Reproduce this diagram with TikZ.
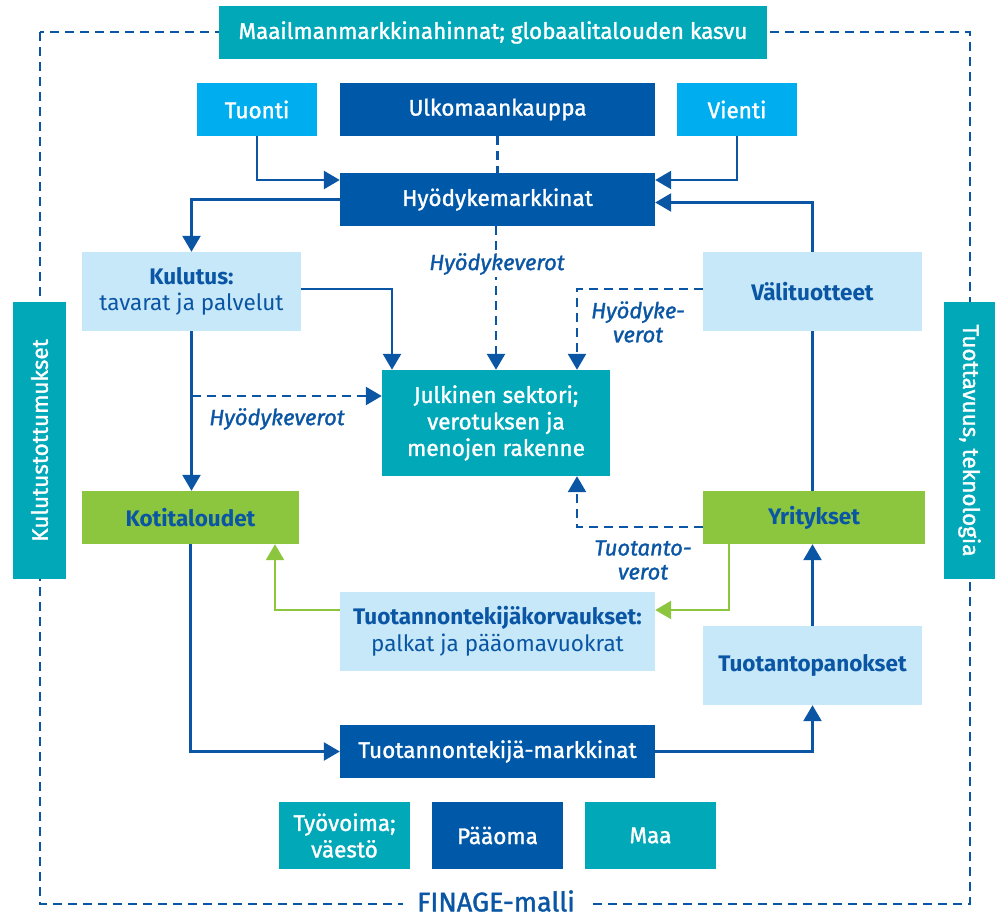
\documentclass[tikz,border=0pt]{standalone}
\usepackage{fontspec}
\setmainfont{Fira Sans}
\newfontfamily\medf{Fira Sans}[FakeBold=1.4]
\usetikzlibrary{arrows.meta,calc}
\definecolor{cTeal}{HTML}{00A8B8}
\definecolor{cDark}{HTML}{0059A8}
\definecolor{cLight}{HTML}{00AEEF}
\definecolor{cPale}{HTML}{C6E8F8}
\definecolor{cGreen}{HTML}{8CC63F}
\definecolor{cText}{HTML}{0A56A4}
\begin{document}
\begin{tikzpicture}[x=1pt,y=-1pt,
  box/.style={inner sep=0pt, align=center, font=\fontsize{22.5}{26.5}\selectfont},
  wbox/.style={box, text=white, font=\medf\fontsize{22.5}{26.5}\selectfont},
  dbox/.style={box, text=cText},
  arr/.style={draw=cText, line width=2.5pt, -{Triangle[length=16pt,width=18pt]}},
  garr/.style={draw=cGreen, line width=2.5pt, -{Triangle[length=16pt,width=18pt]}},
  dsh/.style={dash pattern=on 9pt off 6pt},
  plain/.style={draw=cText, line width=2.5pt},
  lab/.style={font=\medf\itshape\fontsize{22}{24}\selectfont, text=cText, fill=white, inner sep=2pt, align=center},
]
\useasboundingbox (0,0) rectangle (995,917);
% outer dashed frame
\coordinate (fTL) at (40,32);
\coordinate (fBR) at (970,904);
\draw[draw=cText, line width=2.4pt, dsh] (fTL) rectangle (fBR);

% top box
\node[wbox, fill=cTeal, minimum width=548pt, minimum height=53pt] (top) at (493,32.5) {Maailmanmarkkinahinnat; globaalitalouden kasvu};
% side boxes
\node[wbox, fill=cTeal, minimum width=277pt, minimum height=53pt, rotate=90] (leftv) at (39.5,440.5) {Kulutustottumukset};
\node[wbox, fill=cTeal, minimum width=277pt, minimum height=52pt, rotate=-90] (rightv) at (969.5,440.5) {Tuottavuus, teknologia};

% row 1
\node[wbox, fill=cLight, minimum width=120pt, minimum height=53pt] (tuonti) at (257,109.5) {Tuonti};
\node[wbox, fill=cDark, minimum width=315pt, minimum height=53pt] (ulko) at (497.5,109.5) {Ulkomaankauppa};
\node[wbox, fill=cLight, minimum width=120pt, minimum height=53pt] (vienti) at (737,109.5) {Vienti};
\node[wbox, fill=cDark, minimum width=315pt, minimum height=53pt] (hyody) at (497.5,199.5) {Hyödykemarkkinat};

% middle
\node[dbox, fill=cPale, minimum width=219pt, minimum height=79pt] (kulutus) at (191.5,291.5) {\bfseries Kulutus:\\tavarat ja palvelut};
\node[dbox, fill=cPale, minimum width=219pt, minimum height=79pt] (vali) at (812.5,291.5) {\bfseries Välituotteet};
\node[wbox, fill=cTeal, minimum width=228pt, minimum height=106pt] (julk) at (496,423) {Julkinen sektori;\\verotuksen ja\\menojen rakenne};
\node[dbox, fill=cGreen, minimum width=217pt, minimum height=53pt] (koti) at (190.5,517.5) {\bfseries Kotitaloudet};
\node[dbox, fill=cGreen, minimum width=222pt, minimum height=53pt] (yrit) at (814,517.5) {\bfseries Yritykset};
\node[dbox, fill=cPale, minimum width=315pt, minimum height=79pt] (tkorv) at (497.5,631.5) {\bfseries Tuotannontekijäkorvaukset:\\palkat ja pääomavuokrat};
\node[dbox, fill=cPale, minimum width=219pt, minimum height=79pt] (tpan) at (812.5,665.5) {\bfseries Tuotantopanokset};
\node[wbox, fill=cDark, minimum width=315pt, minimum height=53pt] (tmark) at (497.5,751.5) {Tuotannontekijä-markkinat};

% bottom row
\node[wbox, fill=cTeal, minimum width=131pt, minimum height=67pt] (tyov) at (344.5,835.5) {Työvoima;\\väestö};
\node[wbox, fill=cDark, minimum width=131pt, minimum height=67pt] (paaoma) at (497.5,835.5) {Pääoma};
\node[wbox, fill=cTeal, minimum width=131pt, minimum height=67pt] (maa) at (650.5,835.5) {Maa};

\node[font=\medf\fontsize{27}{29}\selectfont, text=cText, fill=white, inner xsep=14pt, inner ysep=1pt] (finage) at (496,901) {FINAGE-malli};

% connectors
\draw[arr] (tuonti.south) |- ([yshift=19.5pt]hyody.west);
\draw[arr] (vienti.south) |- ([yshift=19.5pt]hyody.east);
\draw[plain, dsh] (ulko.south) -- (hyody.north);
\draw[arr] (hyody.west) -| (kulutus.north);
\draw[arr] (vali.north) |- ([yshift=-3pt]hyody.east);

\draw[arr, dsh] ([xshift=-1.5pt]hyody.south) -- ([xshift=-1.5pt]hyody.south |- julk.north);
\node[lab] (lbl1) at (497,264) {Hyödykeverot};

\draw[arr] ([yshift=2.5pt]kulutus.east) -| ([xshift=-104pt]julk.north);
\draw[arr] (kulutus.south) -- (kulutus.south |- koti.north);
\coordinate (hvl) at ([yshift=27pt]julk.west);
\draw[arr, dsh] (kulutus.south |- hvl) -- (hvl);
\node[lab] (lbl2) at (277,419) {Hyödykeverot};

\draw[arr, dsh] ([yshift=2.5pt]vali.west) -| ([xshift=81pt]julk.north);
\node[lab, fill=none] (lbl3) at (638,322) {Hyödyke-\\verot};

\draw[plain] (vali.south) -- (vali.south |- yrit.north);
\draw[arr, dsh] ([yshift=-9.5pt]yrit.west) -| ([xshift=81pt]julk.south);
\node[lab, fill=none] (lbl4) at (643,560) {Tuotanto-\\verot};

\draw[garr] ([xshift=-85pt]yrit.south) |- ([yshift=21.5pt]tkorv.east);
\draw[garr] ([yshift=21.5pt]tkorv.west) -| ([xshift=84.5pt]koti.south);

\draw[arr] (tpan.north) -- (tpan.north |- yrit.south);
\draw[arr] (koti.south) |- (tmark.west);
\draw[arr] (tmark.east) -| (tpan.south);
\end{tikzpicture}
\end{document}
